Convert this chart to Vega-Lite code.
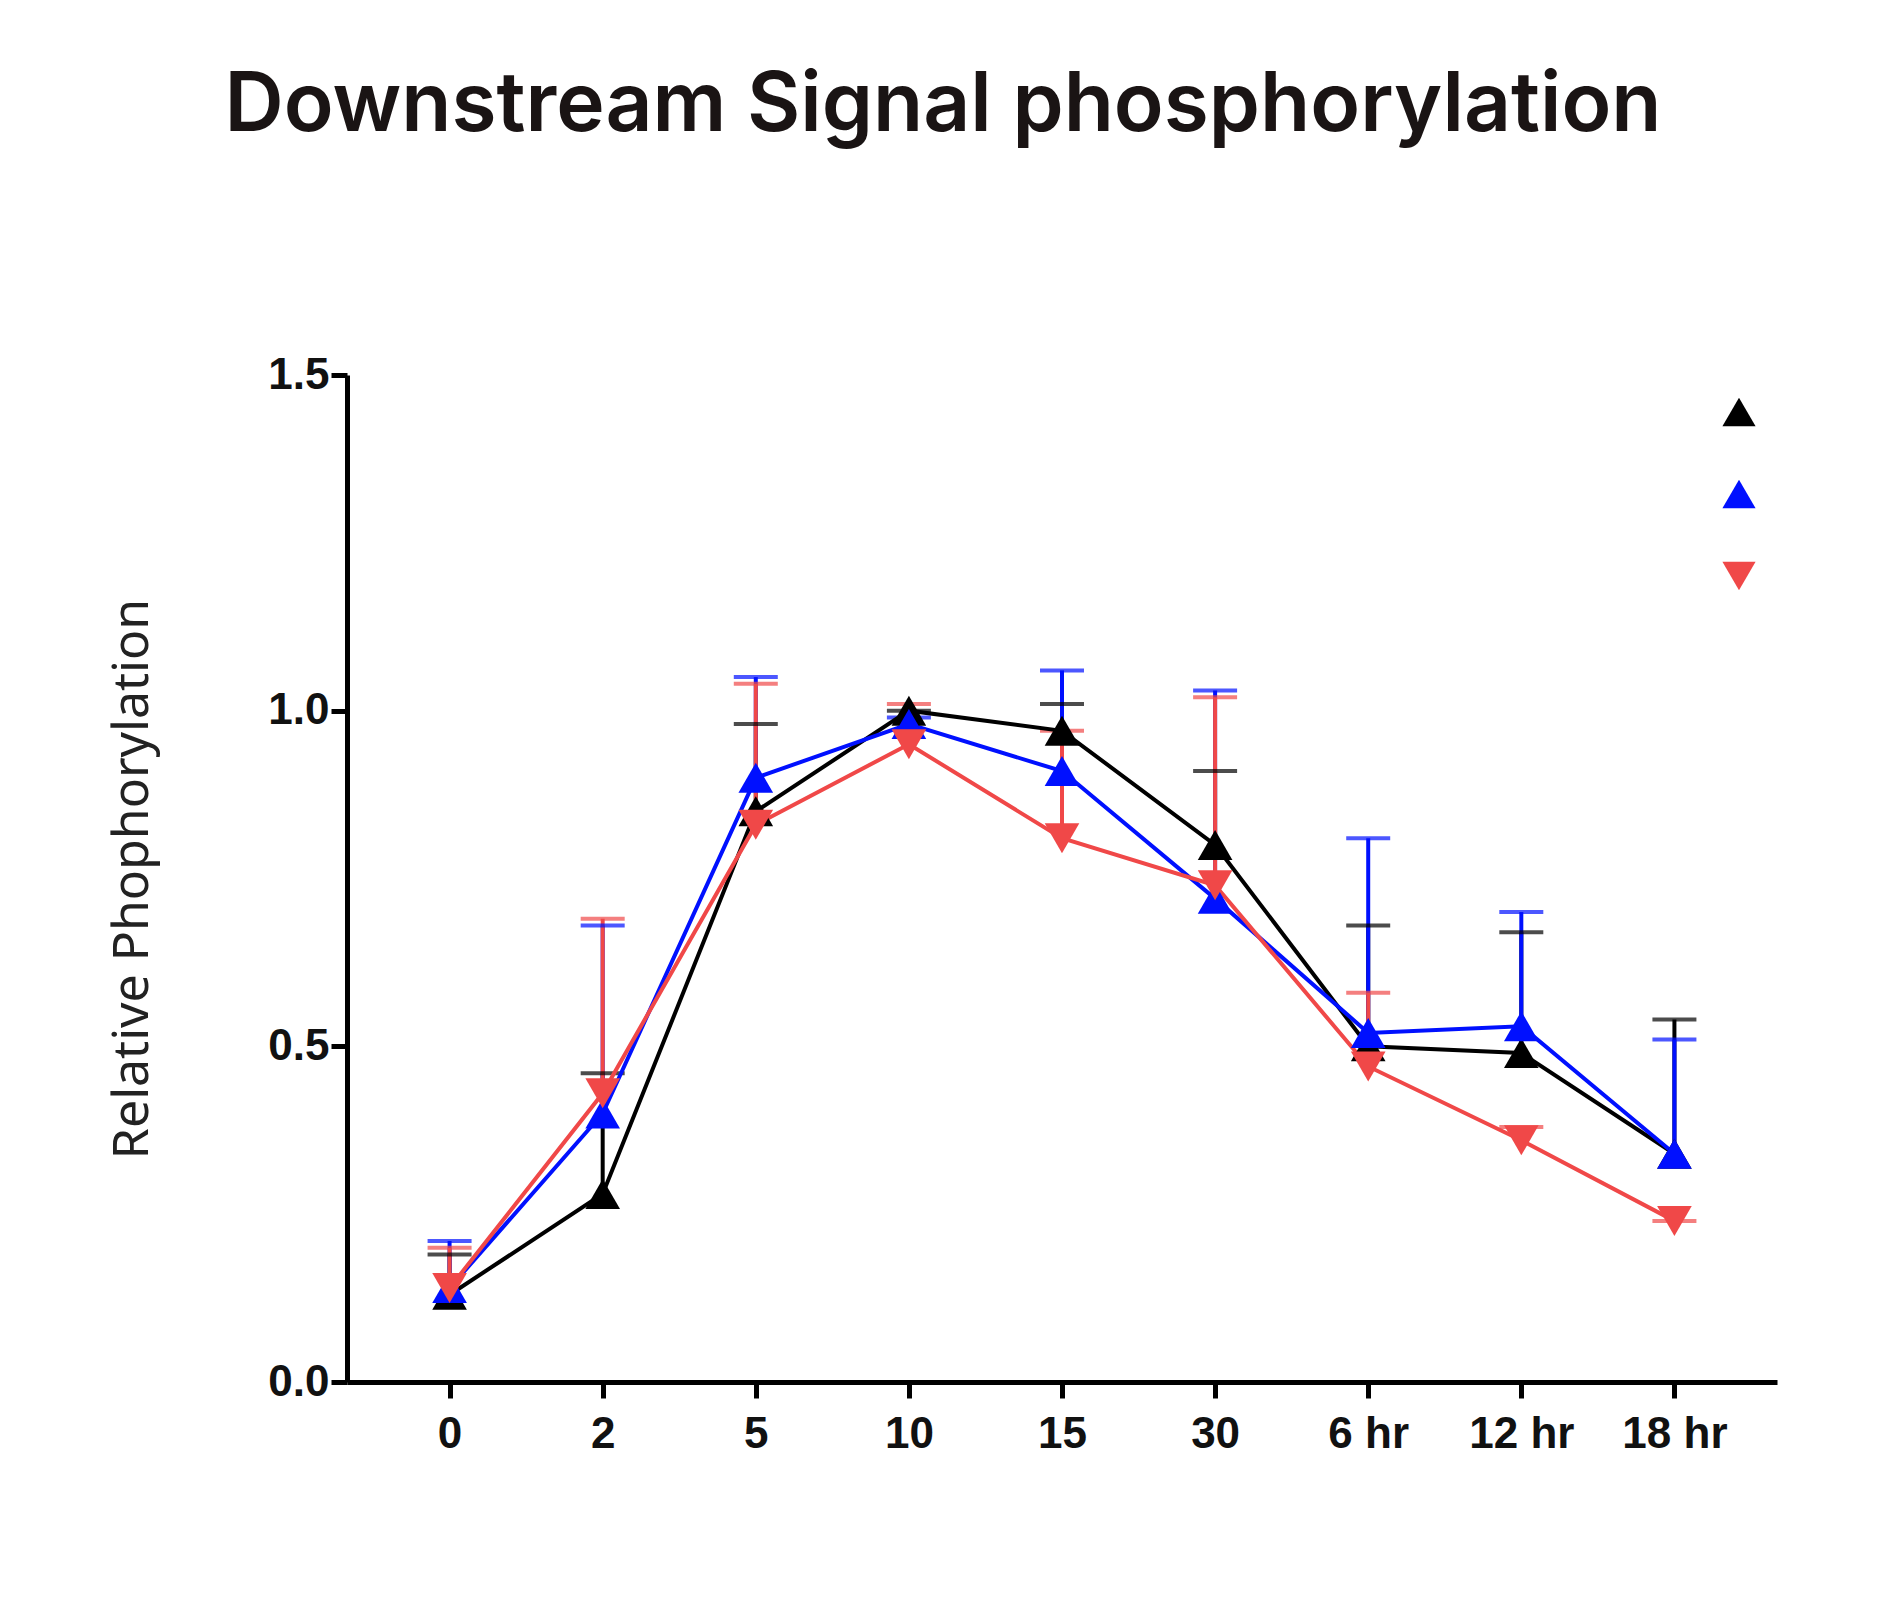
{
"$schema":"https://vega.github.io/schema/vega-lite/v6.json",
"autosize":"none","width":1430,"height":1007,
"padding":{"left":347,"top":375,"right":119,"bottom":237},
"background":"white",
"title":{"text":"Downstream Signal phosphorylation","fontSize":82,"font":"Inter","fontWeight":600,"color":"#1a1414","offset":205,"anchor":"middle","dx":-119},
"config":{"view":{"stroke":null},"axis":{"grid":false,"domainColor":"black","domainWidth":5,"tickColor":"black","tickWidth":5,"tickSize":16,"labelFont":"Liberation Sans","labelFontWeight":"bold","labelFontSize":44,"labelColor":"#111"}},
"data":{"values":[
{"t":"0","g":"A","m":0.13,"u":0.19},{"t":"2","g":"A","m":0.28,"u":0.46},{"t":"5","g":"A","m":0.85,"u":0.98},{"t":"10","g":"A","m":1.0,"u":1.0},{"t":"15","g":"A","m":0.97,"u":1.01},{"t":"30","g":"A","m":0.8,"u":0.91},{"t":"6 hr","g":"A","m":0.5,"u":0.68},{"t":"12 hr","g":"A","m":0.49,"u":0.67},{"t":"18 hr","g":"A","m":0.34,"u":0.54},
{"t":"0","g":"B","m":0.14,"u":0.21},{"t":"2","g":"B","m":0.4,"u":0.68},{"t":"5","g":"B","m":0.9,"u":1.05},{"t":"10","g":"B","m":0.98,"u":0.99},{"t":"15","g":"B","m":0.91,"u":1.06},{"t":"30","g":"B","m":0.72,"u":1.03},{"t":"6 hr","g":"B","m":0.52,"u":0.81},{"t":"12 hr","g":"B","m":0.53,"u":0.7},{"t":"18 hr","g":"B","m":0.34,"u":0.51},
{"t":"0","g":"C","m":0.14,"u":0.2},{"t":"2","g":"C","m":0.43,"u":0.69},{"t":"5","g":"C","m":0.83,"u":1.04},{"t":"10","g":"C","m":0.95,"u":1.01},{"t":"15","g":"C","m":0.81,"u":0.97},{"t":"30","g":"C","m":0.74,"u":1.02},{"t":"6 hr","g":"C","m":0.47,"u":0.58},{"t":"12 hr","g":"C","m":0.36,"u":0.38},{"t":"18 hr","g":"C","m":0.24,"u":0.24}
]},
"encoding":{
"x":{"field":"t","type":"ordinal","sort":null,"scale":{"type":"point","padding":0.67},"axis":{"title":null,"labelAngle":0,"labelPadding":14}},
"color":{"field":"g","type":"nominal","scale":{"domain":["A","B","C"],"range":["#000000","#0010ff","#f04848"]},"legend":{"orient":"none","legendX":1375,"legendY":20,"title":null,"labelExpr":"''","symbolSize":1100,"symbolStrokeWidth":0,"rowPadding":50,"symbolOpacity":1}},
"shape":{"field":"g","type":"nominal","scale":{"domain":["A","B","C"],"range":["triangle-up","triangle-up","triangle-down"]}}
},
"layer":[
{"mark":{"type":"rule","strokeWidth":4},"encoding":{"shape":null,"y":{"field":"m","type":"quantitative","scale":{"domain":[0,1.5],"nice":false},"axis":{"values":[0,0.5,1,1.5],"format":".1f","title":"Relative Phophorylation","titleFont":"Noto Sans","titleFontWeight":"normal","titleFontSize":50,"titleColor":"#222","titlePadding":110}},"y2":{"field":"u"}}},
{"mark":{"type":"tick","thickness":4,"size":44},"encoding":{"shape":null,"y":{"field":"u","type":"quantitative"}}},
{"mark":{"type":"line","strokeWidth":4},"encoding":{"shape":null,"y":{"field":"m","type":"quantitative"},"detail":{"field":"g"}}},
{"mark":{"type":"point","filled":true,"opacity":1,"size":1200},"encoding":{"y":{"field":"m","type":"quantitative"}}}
]
}
